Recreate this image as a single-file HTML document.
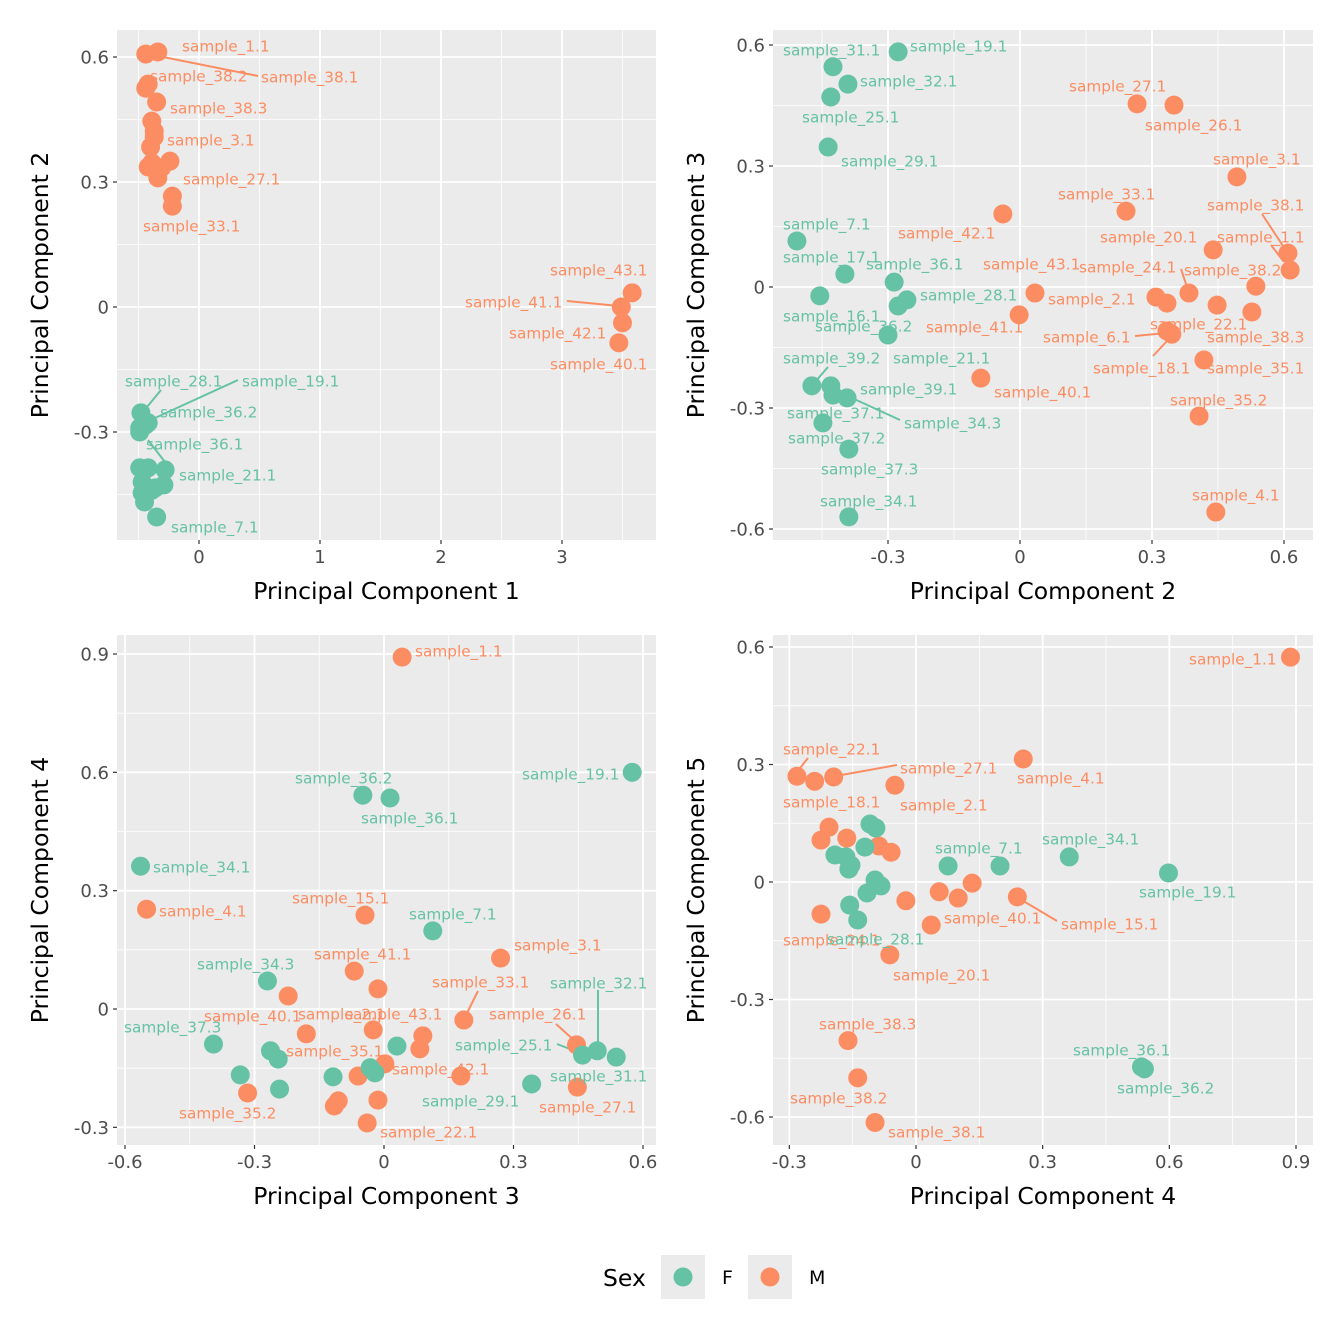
<!DOCTYPE html>
<html><head><meta charset="utf-8"><style>
body{margin:0;background:#fff;}
svg{display:block;font-family:"DejaVu Sans","Liberation Sans",sans-serif;}
</style></head><body>
<svg id="chart" width="1344" height="1344" viewBox="0 0 1344 1344"></svg>
<script>
// ---- Panel 1: PC1 vs PC2 ----
const p1X=[-0.44,-0.34,-0.42,-0.44,-0.35,-0.39,-0.37,-0.37,-0.40,-0.39,-0.42,-0.31,-0.24,-0.34,-0.22,-0.22,3.49,3.58,3.50,3.47,
 -0.48,-0.49,-0.44,-0.42,-0.49,-0.49,-0.42,-0.28,-0.29,-0.47,-0.39,-0.47,-0.45,-0.35,-0.36];
const p1Y=[0.607,0.612,0.535,0.525,0.492,0.446,0.422,0.408,0.384,0.346,0.336,0.334,0.350,0.310,0.266,0.242,0.0,0.034,-0.038,-0.086,
 -0.254,-0.290,-0.283,-0.278,-0.30,-0.386,-0.386,-0.391,-0.427,-0.42,-0.44,-0.446,-0.468,-0.504,-0.434];
const p1S="MMMMMMMMMMMMMMMMMMMMFFFFFFFFFFFFFFF";
const p1L=[["sample_1.1",182,46,"M"],["sample_38.2",150,76,"M"],["sample_38.1",261,77,"M",258,76,158,56],["sample_38.3",170,108,"M"],
 ["sample_3.1",167,140,"M"],["sample_27.1",183,179,"M"],["sample_33.1",143,226,"M"],["sample_43.1",550,270,"M"],
 ["sample_41.1",465,302,"M",567,301,619,306],["sample_42.1",509,333,"M"],["sample_40.1",550,364,"M"],
 ["sample_28.1",125,381,"F",161,390,147,407],["sample_19.1",242,381,"F",238,380,155,418],["sample_36.2",160,412,"F"],
 ["sample_36.1",146,444,"F",148,440,165,462],["sample_21.1",179,475,"F"],["sample_7.1",171,527,"F"]];
// ---- Panel 2: PC2 vs PC3 ----
const p2X=[-0.277,-0.425,-0.391,-0.430,-0.436,-0.507,-0.398,-0.286,-0.455,-0.277,-0.257,-0.30,-0.473,-0.430,-0.425,-0.393,-0.448,-0.389,-0.389,
 0.266,0.35,0.493,-0.039,0.241,0.439,0.609,0.614,0.536,0.034,0.309,0.334,0.384,0.448,0.527,-0.002,0.334,0.345,0.418,-0.089,0.407,0.445];
const p2Y=[0.583,0.546,0.503,0.471,0.347,0.114,0.032,0.012,-0.022,-0.047,-0.032,-0.119,-0.245,-0.245,-0.268,-0.275,-0.337,-0.402,-0.570,
 0.454,0.451,0.273,0.181,0.188,0.092,0.084,0.042,0.002,-0.015,-0.025,-0.040,-0.015,-0.045,-0.062,-0.069,-0.109,-0.117,-0.181,-0.226,-0.32,-0.558];
const p2S="FFFFFFFFFFFFFFFFFFFMMMMMMMMMMMMMMMMMMMMMM";
const p2L=[["sample_31.1",783,50,"F"],["sample_19.1",910,46,"F"],["sample_32.1",860,81,"F"],["sample_25.1",802,117,"F"],
 ["sample_29.1",841,161,"F"],["sample_7.1",783,224,"F"],["sample_17.1",783,257,"F"],["sample_36.1",866,264,"F"],
 ["sample_28.1",920,295,"F"],["sample_16.1",783,316,"F"],["sample_36.2",815,326,"F"],["sample_21.1",893,358,"F"],
 ["sample_39.2",783,358,"F",828,367,815,382],["sample_39.1",860,389,"F"],["sample_37.1",787,413,"F"],
 ["sample_34.3",904,423,"F",900,420,852,398],["sample_37.2",788,438,"F"],["sample_37.3",821,469,"F"],["sample_34.1",820,501,"F"],
 ["sample_27.1",1069,86,"M"],["sample_26.1",1145,125,"M"],["sample_3.1",1213,159,"M"],["sample_33.1",1058,194,"M"],
 ["sample_38.1",1207,205,"M",1262,214,1287,252],["sample_42.1",898,233,"M"],["sample_20.1",1100,237,"M"],
 ["sample_1.1",1217,237,"M",1271,245,1284,262],["sample_43.1",983,264,"M"],["sample_24.1",1079,267,"M",1181,269,1188,290],
 ["sample_38.2",1184,270,"M"],["sample_2.1",1048,299,"M"],["sample_41.1",926,327,"M"],["sample_22.1",1150,324,"M"],
 ["sample_6.1",1043,337,"M",1135,336,1166,333],["sample_38.3",1207,337,"M"],["sample_18.1",1093,368,"M",1153,356,1168,340],
 ["sample_35.1",1207,368,"M"],["sample_40.1",994,392,"M"],["sample_35.2",1170,400,"M"],["sample_4.1",1192,495,"M"]];
// ---- Panel 3: PC3 vs PC4 ----
const p3X=[0.042,-0.044,0.270,-0.069,-0.222,-0.014,0.185,-0.18,-0.025,0.09,0.083,0.446,0.002,-0.06,0.178,0.448,-0.316,-0.106,-0.115,-0.014,-0.039,-0.55,
 0.575,-0.049,0.014,-0.564,0.113,-0.27,-0.395,-0.263,-0.245,-0.032,-0.021,0.03,-0.118,-0.333,-0.242,0.342,0.46,0.494,0.538];
const p3Y=[0.892,0.238,0.129,0.096,0.033,0.051,-0.028,-0.063,-0.053,-0.068,-0.101,-0.091,-0.139,-0.17,-0.17,-0.198,-0.213,-0.233,-0.246,-0.231,-0.289,0.253,
 0.60,0.542,0.535,0.362,0.198,0.071,-0.089,-0.106,-0.127,-0.149,-0.162,-0.094,-0.172,-0.167,-0.203,-0.19,-0.117,-0.106,-0.122];
const p3S="MMMMMMMMMMMMMMMMMMMMMMFFFFFFFFFFFFFFFFFFF";
const p3L=[["sample_1.1",415,651,"M"],["sample_15.1",292,898,"M"],["sample_3.1",514,945,"M"],["sample_41.1",314,954,"M"],
 ["sample_33.1",432,982,"M",478,991,466,1015],["sample_40.1",204,1016,"M"],["sample_2.1",298,1014,"M"],["sample_43.1",345,1014,"M"],
 ["sample_26.1",489,1014,"M",556,1024,576,1042],["sample_35.1",286,1051,"M"],["sample_42.1",392,1069,"M"],["sample_35.2",179,1113,"M"],
 ["sample_27.1",539,1107,"M"],["sample_22.1",380,1132,"M"],["sample_4.1",159,911,"M"],
 ["sample_36.2",295,778,"F"],["sample_36.1",361,818,"F"],["sample_19.1",522,774,"F"],["sample_34.1",153,867,"F"],
 ["sample_7.1",409,914,"F"],["sample_34.3",197,964,"F"],["sample_32.1",550,983,"F",598,990,598,1049],["sample_37.3",124,1027,"F"],
 ["sample_25.1",455,1045,"F",557,1044,580,1053],["sample_31.1",550,1076,"F"],["sample_29.1",422,1101,"F"]];
// ---- Panel 4: PC4 vs PC5 ----
const p4X=[0.887,-0.282,-0.24,-0.195,-0.05,0.254,-0.206,-0.225,-0.164,-0.088,-0.059,0.055,0.133,0.10,0.24,-0.024,0.036,-0.225,-0.062,-0.161,-0.138,-0.097,
 -0.192,-0.166,-0.159,-0.154,-0.121,-0.109,-0.095,-0.097,-0.083,-0.116,-0.157,-0.138,0.076,0.199,0.363,0.598,0.534,0.541];
const p4Y=[0.574,0.270,0.257,0.268,0.247,0.314,0.14,0.107,0.112,0.092,0.076,-0.025,-0.003,-0.041,-0.038,-0.048,-0.11,-0.082,-0.186,-0.405,-0.50,-0.614,
 0.069,0.064,0.033,0.043,0.089,0.148,0.138,0.005,-0.01,-0.028,-0.059,-0.097,0.041,0.041,0.064,0.023,-0.472,-0.477];
const p4S="MMMMMMMMMMMMMMMMMMMMMMFFFFFFFFFFFFFFFFFF";
const p4L=[["sample_1.1",1189,659,"M"],["sample_22.1",783,749,"M",808,758,797,772],["sample_27.1",900,768,"M",897,765,836,776],
 ["sample_4.1",1017,778,"M"],["sample_18.1",783,802,"M"],["sample_2.1",900,805,"M"],["sample_40.1",944,918,"M"],
 ["sample_15.1",1061,924,"M",1057,921,1020,899],["sample_24.1",783,940,"M"],["sample_20.1",893,975,"M"],["sample_38.3",819,1024,"M"],
 ["sample_38.2",790,1098,"M"],["sample_38.1",888,1132,"M"],
 ["sample_7.1",935,848,"F"],["sample_34.1",1042,839,"F"],["sample_19.1",1139,892,"F"],["sample_28.1",827,939,"F"],
 ["sample_36.1",1073,1050,"F"],["sample_36.2",1117,1088,"F"]];
const p1XTicks=[0,1,2,3], p1YTicks=[-0.3,0,0.3,0.6];
const p2XTicks=[-0.3,0,0.3,0.6], p2YTicks=[-0.6,-0.3,0,0.3,0.6];
const p3XTicks=[-0.6,-0.3,0,0.3,0.6], p3YTicks=[-0.3,0,0.3,0.6,0.9];
const p4XTicks=[-0.3,0,0.3,0.6,0.9], p4YTicks=[-0.6,-0.3,0,0.3,0.6];

const COL={F:"#66c2a5",M:"#fc8d62"};
const NS="http://www.w3.org/2000/svg";
const svg=document.getElementById('chart');
function mk(tag,attrs,parent,text){const e=document.createElementNS(NS,tag);for(const k in attrs)e.setAttribute(k,attrs[k]);if(text!==undefined)e.textContent=text;(parent||svg).appendChild(e);return e;}
function fmt(v){return (Math.round(v*10)/10).toString();}

const panels=[
 {n:1,l:117,r:656,t:30,b:540,xa:[0,199,1,320],ya:[0,307,0.6,57],X:p1X,Y:p1Y,S:p1S,L:p1L,xt:p1XTicks,yt:p1YTicks,xl:"Principal Component 1",yl:"Principal Component 2",xint:true},
 {n:2,l:773,r:1313,t:30,b:540,xa:[0,1020,0.6,1284],ya:[0,287,0.6,45],X:p2X,Y:p2Y,S:p2S,L:p2L,xt:p2XTicks,yt:p2YTicks,xl:"Principal Component 2",yl:"Principal Component 3"},
 {n:3,l:117,r:656,t:635,b:1145,xa:[0,384,0.6,643],ya:[0,1009,0.9,654],X:p3X,Y:p3Y,S:p3S,L:p3L,xt:p3XTicks,yt:p3YTicks,xl:"Principal Component 3",yl:"Principal Component 4"},
 {n:4,l:773,r:1313,t:635,b:1145,xa:[0,916,0.9,1296],ya:[0,882,0.6,647],X:p4X,Y:p4Y,S:p4S,L:p4L,xt:p4XTicks,yt:p4YTicks,xl:"Principal Component 4",yl:"Principal Component 5"}
];
panels.forEach(p=>{
 const sx=v=>p.xa[1]+(v-p.xa[0])*(p.xa[3]-p.xa[1])/(p.xa[2]-p.xa[0]);
 const sy=v=>p.ya[1]+(v-p.ya[0])*(p.ya[3]-p.ya[1])/(p.ya[2]-p.ya[0]);
 const g=mk('g',{});
 
 
 const bg=mk('rect',{x:p.l,y:p.t,width:p.r-p.l,height:p.b-p.t,fill:"#ebebeb"},g);
 
 
 const xstep=p.xt[1]-p.xt[0], ystep=p.yt[1]-p.yt[0];
 for(let v=p.xt[0]-xstep*2+xstep/2; v<p.xt[p.xt.length-1]+xstep*2; v+=xstep){const px=sx(v);if(px>p.l&&px<p.r){const e=mk('line',{x1:px,x2:px,y1:p.t,y2:p.b,stroke:"#fff","stroke-width":0.8},g);}}
 for(let v=p.yt[0]-ystep*2+ystep/2; v<p.yt[p.yt.length-1]+ystep*2; v+=ystep){const py=sy(v);if(py>p.t&&py<p.b){const e=mk('line',{x1:p.l,x2:p.r,y1:py,y2:py,stroke:"#fff","stroke-width":0.8},g);}}
 p.xt.forEach(v=>{const px=sx(v);
  const e=mk('line',{x1:px,x2:px,y1:p.t,y2:p.b,stroke:"#fff","stroke-width":1.8},g);
  const tk=mk('line',{x1:px,x2:px,y1:p.b,y2:p.b+4,stroke:"#333","stroke-width":1.2},g);
  const t=mk('text',{x:px,y:p.b+23,"text-anchor":"middle","font-size":18,fill:"#4d4d4d"},g,p.xint?String(v):fmt(v));});
 p.yt.forEach(v=>{const py=sy(v);
  const e=mk('line',{x1:p.l,x2:p.r,y1:py,y2:py,stroke:"#fff","stroke-width":1.8},g);
  const tk=mk('line',{x1:p.l-4,x2:p.l,y1:py,y2:py,stroke:"#333","stroke-width":1.2},g);
  const t=mk('text',{x:p.l-8,y:py+6.5,"text-anchor":"end","font-size":18,fill:"#4d4d4d"},g,fmt(v));});
 p.L.forEach(d=>{if(d.length>4){const s=mk('line',{x1:d[4],y1:d[5],x2:d[6],y2:d[7],stroke:COL[d[3]],"stroke-width":2},g);}});
 p.X.forEach((v,i)=>{const c=mk('circle',{cx:sx(v),cy:sy(p.Y[i]),r:9.5,fill:COL[p.S[i]]},g);
  
  });
 p.L.forEach(d=>{const t=mk('text',{x:d[1],y:d[2]+5.5,"font-size":15.3,fill:COL[d[3]]},g,d[0]);
  
  });
 const xt=mk('text',{x:(p.l+p.r)/2,y:p.b+59,"text-anchor":"middle","font-size":23.5,fill:"#000"},g,p.xl);
 
 
 const cy=(p.t+p.b)/2, cx=p.l-69;
 const yt=mk('text',{x:cx,y:cy,"text-anchor":"middle","font-size":23.5,fill:"#000",transform:`rotate(-90 ${cx} ${cy})`},g,p.yl);
 
 
});
const lg=mk('g',{});


const lt=mk('text',{x:603,y:1286,"font-size":23.5,fill:"#000"},lg,"Sex");


[["F",661,722],["M",748,809]].forEach(e=>{
 const r=mk('rect',{x:e[1],y:1255,width:44,height:44,fill:"#ebebeb"},lg);
 
 
 const c=mk('circle',{cx:e[1]+22,cy:1277,r:9.5,fill:COL[e[0]]},lg);
 
 
 const t=mk('text',{x:e[2],y:1284,"font-size":19,fill:"#000"},lg,e[0]);
 
 
});
</script>
</body></html>
